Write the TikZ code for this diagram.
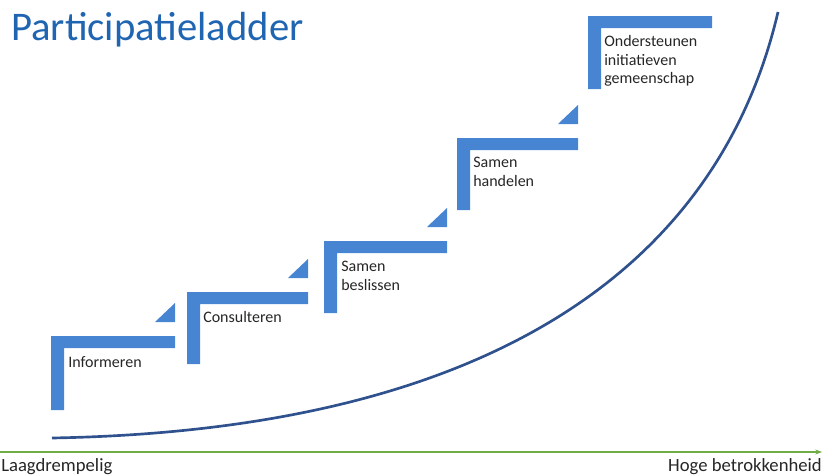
\documentclass[tikz,border=0pt]{standalone}
\usepackage{fontspec}
\setmainfont{Carlito}
\usetikzlibrary{arrows.meta}
\definecolor{stepblue}{RGB}{71,133,211}
\definecolor{curveblue}{RGB}{47,82,143}
\definecolor{axisgreen}{RGB}{112,173,71}
\definecolor{titleblue}{RGB}{31,101,178}
\definecolor{labelgray}{RGB}{38,38,38}
\tikzset{
  stepframe/.style={fill=stepblue},
  steplabel/.style={anchor=west, inner sep=0pt, align=left, text=labelgray,
    font=\fontsize{12}{14}\selectfont},
  axislabel/.style={inner sep=0pt, text=labelgray, font=\fontsize{14}{16}\selectfont}
}
\begin{document}
\begin{tikzpicture}[x=0.75pt,y=-0.75pt]
\useasboundingbox (0,0) rectangle (822,475);
% title
\node[anchor=base west, inner sep=0pt, text=titleblue, font=\fontsize{30.5}{36}\selectfont]
  (title) at (11,40) {Participatieladder};
% steps of the ladder
\foreach \xl/\ytop/\xr/\yb in {51/336/175/410, 187/292/308/364, 324/241/447/313,
                              457/138/578/210, 588/16/712/89}
  \fill[stepframe] (\xl,\ytop) -- (\xr,\ytop) -- (\xr,\ytop+12) -- (\xl+13,\ytop+12)
    -- (\xl+13,\yb) -- (\xl,\yb) -- cycle;
% small wedges above the steps
\foreach \ytop/\xr in {336/175, 292/308, 241/447, 138/578}
  \fill[stepframe] (\xr-20,\ytop-14) -- (\xr,\ytop-14) -- (\xr,\ytop-33) -- cycle;
% labels
\node[steplabel] (informeren) at (68,362) {Informeren};
\node[steplabel] (consulteren) at (203,317) {Consulteren};
\node[steplabel] (beslissen) at (341,276) {Samen\\beslissen};
\node[steplabel] (handelen) at (473,172) {Samen\\handelen};
\node[steplabel] (ondersteunen) at (604,61) {Ondersteunen\\initiatieven\\gemeenschap};
% curve
\coordinate (curvestart) at (52,438);
\coordinate (curveend) at (778,12);
\draw[curveblue, line width=2pt] (curvestart) .. controls (500,430) and (720,260) .. (curveend);
% axis
\coordinate (axisstart) at (0,452);
\coordinate (axisend) at (822,452);
\draw[axisgreen, line width=1.5pt, -{Stealth[length=5pt]}] (axisstart) -- (axisend);
\node[axislabel, anchor=base west] (laag) at (1,471) {Laagdrempelig};
\node[axislabel, anchor=base east] (hoog) at (822,471) {Hoge betrokkenheid};
\end{tikzpicture}
\end{document}
